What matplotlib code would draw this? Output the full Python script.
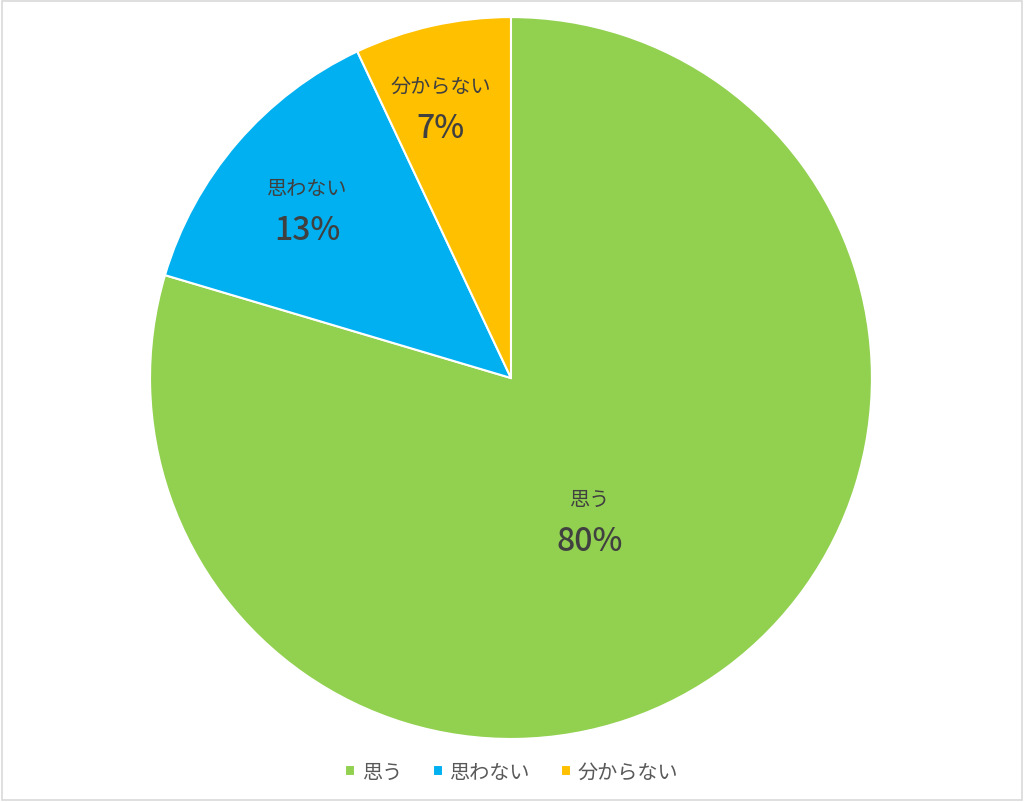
import matplotlib
matplotlib.use("Agg")
import matplotlib.pyplot as plt
import numpy as np
from matplotlib.patches import Rectangle

plt.rcParams["font.family"] = ["Noto Sans CJK JP", "DejaVu Sans"]

# ==== データ ====
labels = ["思う", "思わない", "分からない"]
values = [79.6, 13.4, 7.0]
colors = ["#92D050", "#00B0F0", "#FFC000"]
# ラベル位置: 半径比と角度のずれ (deg)
label_dist = [0.45, 0.733, 0.775]
label_rot = [-7.7, 1.0, 2.0]

fig = plt.figure(figsize=(10.24, 8.03), dpi=100)
ax = fig.add_axes([0.1465, 0.0785, 0.705, 0.899])

wedges, _ = ax.pie(
    values, colors=colors, startangle=90, counterclock=False,
    radius=1.0, wedgeprops=dict(edgecolor="white", linewidth=1.5),
)
ax.set_xlim(-1, 1)
ax.set_ylim(-1, 1)
ax.set_aspect("equal")

# 各扇形の中にカテゴリ名と割合を書く
for w, lab, val, d, rot in zip(wedges, labels, values, label_dist, label_rot):
    ang = np.deg2rad((w.theta1 + w.theta2) / 2 + rot)
    x, y = d * np.cos(ang), d * np.sin(ang)
    ax.text(x, y + 0.058, lab, ha="center", va="center", fontsize=14.5, color="#404040")
    ax.text(x, y - 0.058, f"{val:.0f}%", ha="center", va="center", fontsize=23,
            color="#404040", fontweight="medium")

leg = fig.legend(
    wedges, labels, loc="center", bbox_to_anchor=(0.5, 0.037), ncol=3,
    frameon=False, fontsize=14.5, handlelength=0.5, handleheight=0.5,
    handletextpad=0.35, columnspacing=1.5,
)
for t in leg.get_texts():
    t.set_color("#595959")

# チャート外枠
fig.patches.append(Rectangle((0.002, 0.002), 0.996, 0.996, transform=fig.transFigure,
                             fill=False, edgecolor="#D9D9D9", linewidth=1.2))

fig.savefig("out.png", dpi=100)
